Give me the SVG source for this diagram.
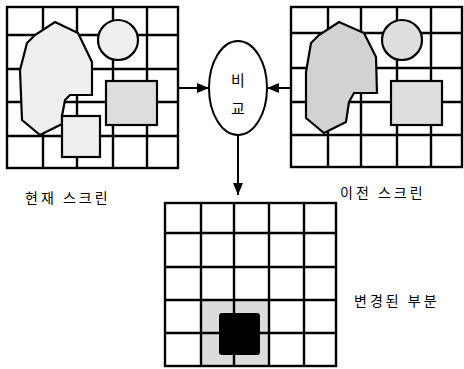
<svg xmlns="http://www.w3.org/2000/svg" width="464" height="369" viewBox="0 0 464 369">
<style>
.grid{fill:none;stroke:#000;stroke-width:2.4}
.shape{stroke:#000;stroke-width:2.2}
.lt{fill:#efefef}
.md{fill:#dedede}
.dk{fill:#d2d2d2}
.conn{stroke:#000;stroke-width:2;fill:none}
.lbl{font-family:"Noto Sans CJK KR","Noto Sans",sans-serif;font-size:14px;fill:#000;letter-spacing:3px}
.ell{font-family:"Noto Sans CJK KR","Noto Sans",sans-serif;font-size:15px;fill:#000;text-anchor:middle}
</style>
<defs>
<marker id="ah" viewBox="0 0 12 10" refX="12" refY="5" markerWidth="12" markerHeight="10" markerUnits="userSpaceOnUse" orient="auto">
<path d="M0,0 L12,5 L0,10 z" fill="#000"/>
</marker>
</defs>
<rect width="464" height="369" fill="#fff"/>
<g id="current-screen">
<rect class="grid" x="7" y="7" width="171" height="161"/>
<path class="grid" d="M43,7V168M77,7V168M113,7V168M147,7V168M7,35H178M7,69H178M7,102H178M7,136H178"/>
<path class="shape lt" d="M55,22 L78,33 L92,62 L92,95 L70,95 L65,100 L62,116 L62,124 L40,135 L22,120 L20,70 L27,43 L35,35 Z"/>
<circle class="shape lt" cx="118" cy="40" r="20"/>
<rect class="shape md" x="106" y="81" width="51" height="44"/>
<rect class="shape lt" x="62" y="116" width="38" height="41"/>
</g>
<g id="previous-screen">
<rect class="grid" x="291" y="7" width="171" height="160"/>
<path class="grid" d="M328,7V167M361,7V167M397,7V167M431,7V167M291,33H462M291,68H462M291,102H462M291,135H462"/>
<path class="shape dk" d="M339,22 L364,33 L376,57 L377,93 L354,93 L349,102 L346,122 L324,133 L306,118 L306,72 L311,43 L319,35 Z"/>
<circle class="shape md" cx="402" cy="40" r="20"/>
<rect class="shape md" x="391" y="81" width="51" height="44"/>
</g>
<g id="compare">
<ellipse cx="238" cy="88" rx="29" ry="47" fill="#fff" stroke="#000" stroke-width="2"/>
<text class="ell" x="238" y="86">비</text>
<text class="ell" x="238" y="114">교</text>
</g>
<g id="changed">
<rect x="201" y="300" width="68" height="66" fill="#dcdcdc"/>
<rect x="219" y="313" width="41" height="42" rx="3" fill="#000"/>
<rect class="grid" x="165" y="203" width="171" height="163"/>
<path class="grid" d="M201,203V366M234,203V366M269,203V366M304,203V366M165,233H336M165,267H336M165,300H336M165,333H336"/>
</g>
<g id="connectors">
<line class="conn" x1="178" y1="88" x2="209" y2="88" marker-end="url(#ah)"/>
<line class="conn" x1="291" y1="88" x2="267" y2="88" marker-end="url(#ah)"/>
<line class="conn" x1="238" y1="135" x2="238" y2="195" marker-end="url(#ah)"/>
</g>
<g id="labels">
<text class="lbl" x="25" y="203">현재 스크린</text>
<text class="lbl" x="340" y="198">이전 스크린</text>
<text class="lbl" x="354" y="306">변경된 부분</text>
</g>
</svg>
